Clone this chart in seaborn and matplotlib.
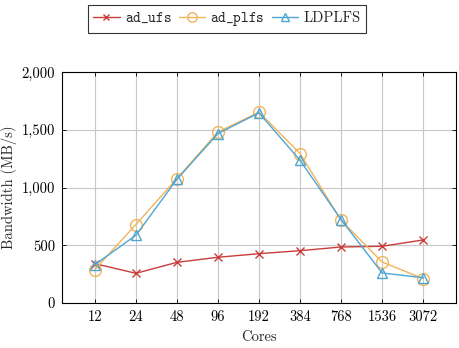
import matplotlib
matplotlib.use("Agg")
import matplotlib.pyplot as plt
import seaborn as sns
import pandas as pd
import numpy as np

cores = [12, 24, 48, 96, 192, 384, 768, 1536, 3072]
ad_ufs = [341, 257, 352, 396, 427, 453, 485, 491, 546]
ad_plfs = [290, 679, 1077, 1481, 1652, 1294, 716, 355, 211]
ldplfs = [332, 586, 1071, 1467, 1646, 1236, 722, 260, 219]
yticks = [0, 500, 1000, 1500, 2000]
ytick_labels = ["0", "500", "1,000", "1,500", "2,000"]

sns.set_theme(style="ticks")
plt.rcParams["font.family"] = "serif"
plt.rcParams["font.serif"] = ["cmr10", "DejaVu Serif"]
plt.rcParams["mathtext.fontset"] = "cm"
plt.rcParams["axes.unicode_minus"] = False

fig = plt.figure(figsize=(4.59, 3.48), dpi=100)
ax = fig.add_axes([62/459, 1-303/348, (456-62)/459, (303-72)/348])

series = [
    (r"$\mathtt{ad\_ufs}$", ad_ufs, "#c83c3c", "x", 6),
    (r"$\mathtt{ad\_plfs}$", ad_plfs, "#f0b45a", "o", 8.5),
    ("LDPLFS", ldplfs, "#4ea6d2", "^", 7.5),
]
for name, vals, col, mk, ms in series:
    df = pd.DataFrame({"cores": cores, "bw": vals})
    sns.lineplot(data=df, x="cores", y="bw", ax=ax, color=col, marker=mk,
                 markersize=ms, mfc="none" if mk != "x" else col, mec=col,
                 mew=1.0, lw=1.0, label=name, zorder=3)

ax.set_xscale("log", base=2)
ax.set_xlim(12 * 2**-0.8, 3072 * 2**0.8)
ax.set_xticks(cores)
ax.set_xticklabels([str(c) for c in cores])
ax.xaxis.set_minor_locator(matplotlib.ticker.NullLocator())
ax.set_ylim(0, 2000)
ax.set_yticks(yticks)
ax.set_yticklabels(ytick_labels)
ax.grid(True, color="#c8c8c8", lw=0.8)
ax.set_axisbelow(True)
for s in ax.spines.values():
    s.set_visible(True)
    s.set_color("black")
    s.set_linewidth(0.8)
ax.tick_params(direction="in", top=True, right=True, length=3, width=0.6,
               labelsize=10.5, colors="black", pad=5)
ax.set_xlabel("Cores", fontsize=10.5, labelpad=5)
ax.set_ylabel("Bandwidth (MB/s)", fontsize=10.5, labelpad=3)

leg = ax.legend(loc="center", bbox_to_anchor=(227/459, 1-19/348),
                bbox_transform=fig.transFigure, ncol=3, frameon=True,
                fancybox=False, edgecolor="black", fontsize=10.5,
                handlelength=1.8, handletextpad=0.35, columnspacing=0.5,
                borderpad=0.35, markerscale=0.8)
leg.get_frame().set_linewidth(0.8)

fig.savefig("out.png", dpi=100)
